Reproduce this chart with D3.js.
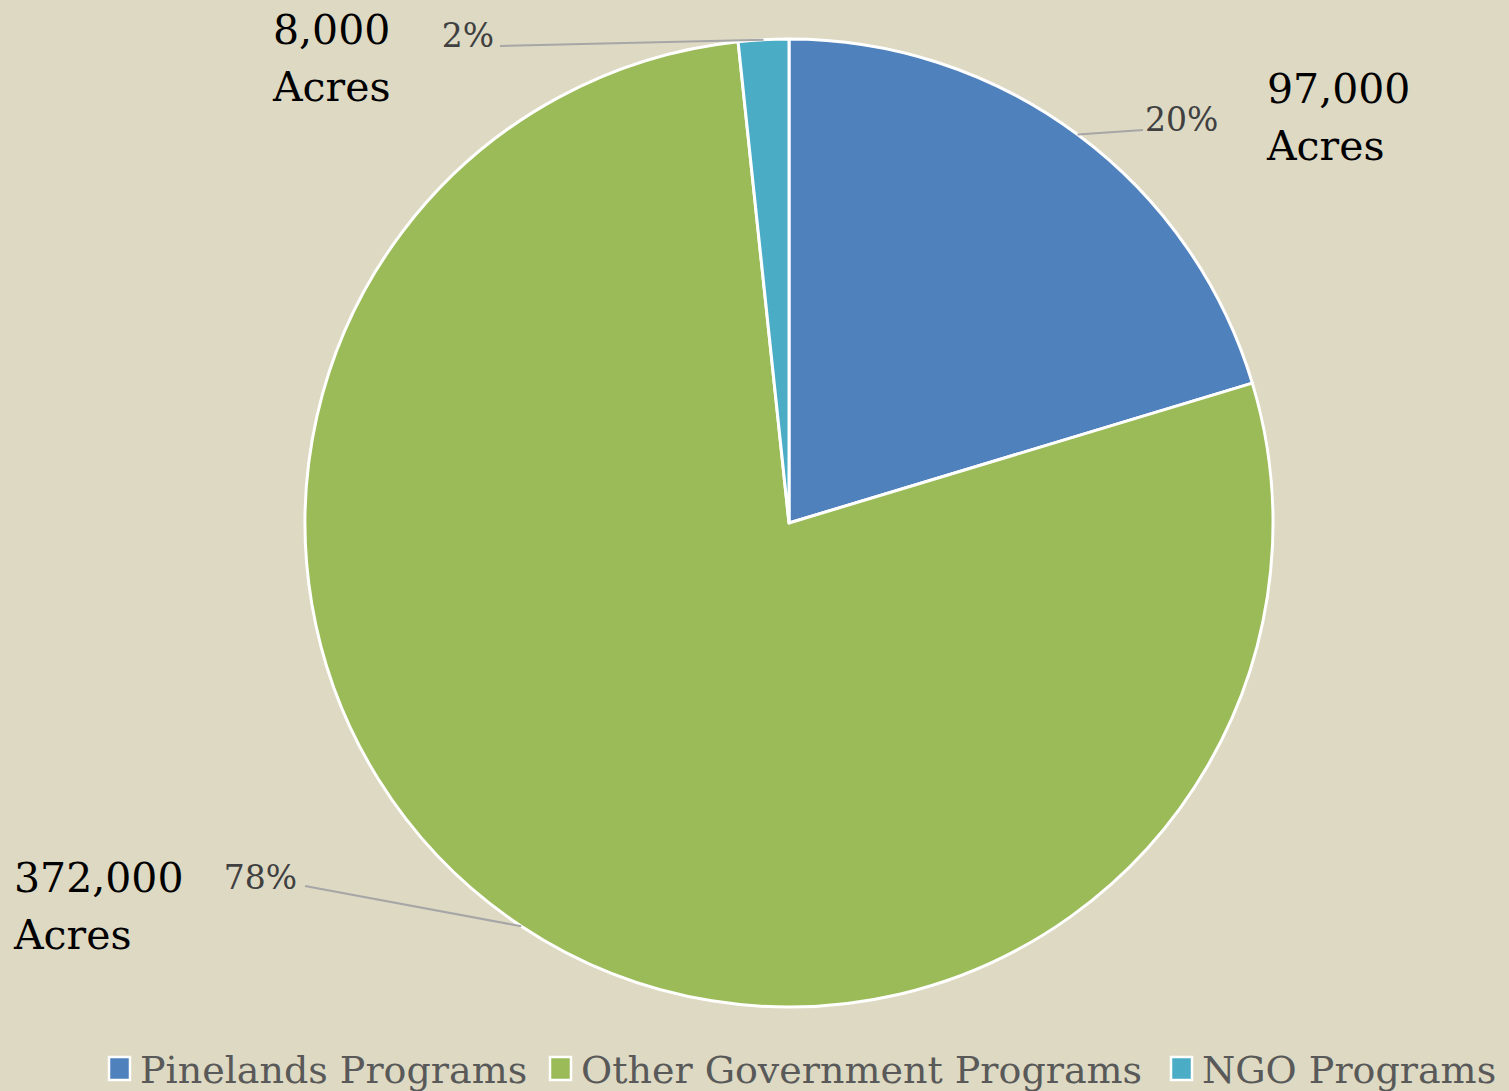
<!DOCTYPE html>
<html>
<head>
<meta charset="utf-8">
<script src="https://cdn.jsdelivr.net/npm/d3@7"></script>
<style>
  html, body { margin: 0; padding: 0; background: #ddd9c3; }
  svg { display: block; }
  text { font-family: "DejaVu Serif", serif; }
</style>
</head>
<body>
<svg id="pie" width="1509" height="1091"></svg>
<script>
const categories = ["Pinelands Programs", "Other Government Programs", "NGO Programs"];
const acres = [97000, 372000, 8000];
const colors = ["#4f81bd", "#9bbb59", "#4bacc6"];

const width = 1509;
const height = 1091;
const cx = 789, cy = 523, radius = 484;

// where each slice's labels sit (percent label anchor + big value label)
const labelLayout = [
  { pct: [1145, 131], pctAnchor: "start", elbow: [1143, 130], big: [1267, 103] },
  { pct: [297, 889], pctAnchor: "end", elbow: [305, 886], big: [14, 892] },
  { pct: [494, 47], pctAnchor: "end", elbow: [500, 46], big: [273, 44] }
];

const svg = d3.select("#pie");
const total = d3.sum(acres);
const fmtPct = d3.format(".0%");
const fmtNum = d3.format(",");

const pie = d3.pie().sort(null).value((d) => d);
const arcs = pie(acres);

const arc = d3.arc().innerRadius(0).outerRadius(radius);

const g = svg.append("g").attr("transform", `translate(${cx},${cy})`);

g.selectAll("path.slice")
  .data(arcs)
  .enter()
  .append("path")
  .classed("slice", true)
  .attr("d", arc)
  .attr("fill", (d, i) => colors[i])
  .attr("stroke", "white")
  .attr("stroke-width", 3)
  .attr("stroke-linejoin", "round");

// leader lines from the middle of each slice's rim
arcs.forEach((d, i) => {
  const mid = (d.startAngle + d.endAngle) / 2;
  const px = cx + radius * Math.sin(mid);
  const py = cy - radius * Math.cos(mid);
  const L = labelLayout[i];
  svg.append("path")
    .attr("d", d3.line()([[px, py], L.elbow]))
    .attr("fill", "none")
    .attr("stroke", "#a6a6a6")
    .attr("stroke-width", 2);

  svg.append("text")
    .attr("x", L.pct[0])
    .attr("y", L.pct[1])
    .attr("text-anchor", L.pctAnchor)
    .attr("font-size", 33)
    .attr("fill", "#404040")
    .text(fmtPct(acres[i] / total));

  const big = svg.append("text")
    .attr("x", L.big[0])
    .attr("y", L.big[1])
    .attr("font-size", 41)
    .attr("fill", "black");
  big.append("tspan").attr("x", L.big[0]).text(fmtNum(acres[i]));
  big.append("tspan").attr("x", L.big[0]).attr("dy", 57).text("Acres");
});

// legend
const legendX = [109, 550, 1171];
const legend = svg.selectAll("g.legend")
  .data(categories)
  .enter()
  .append("g")
  .attr("transform", (d, i) => `translate(${legendX[i]},1057)`);

legend.append("rect")
  .attr("width", 21)
  .attr("height", 23)
  .attr("fill", (d, i) => colors[i])
  .attr("stroke", "white")
  .attr("stroke-width", 2.5);

legend.append("text")
  .attr("x", 31)
  .attr("y", 26)
  .attr("font-size", 38)
  .attr("fill", "#595959")
  .text((d) => d);
</script>
</body>
</html>
